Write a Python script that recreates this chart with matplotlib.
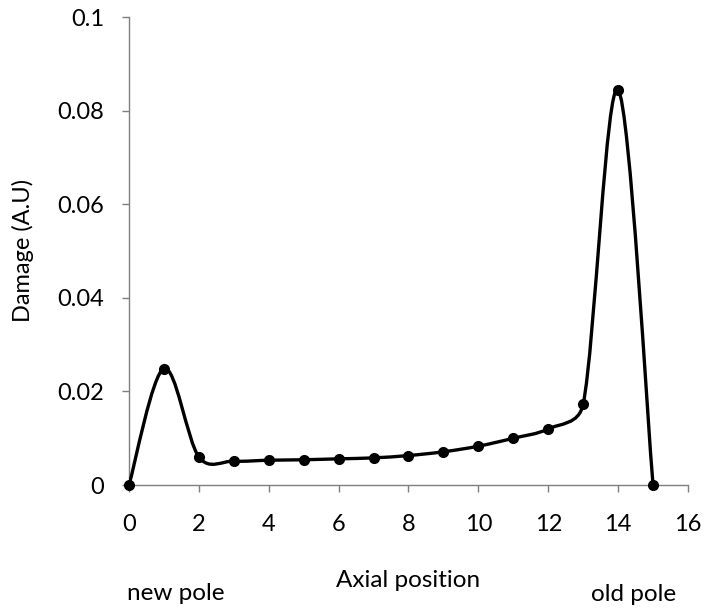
import numpy as np
import matplotlib.pyplot as plt
from matplotlib.path import Path
from matplotlib.patches import PathPatch

# ---------- DATA ----------
positions = list(range(16))
damage = [0.0, 0.0249, 0.0060, 0.0051, 0.0053, 0.0054, 0.0056, 0.0058,
          0.0063, 0.0071, 0.0083, 0.0100, 0.0120, 0.0173, 0.0845, 0.0]
x_ticks = [0, 2, 4, 6, 8, 10, 12, 14, 16]
y_ticks = [0, 0.02, 0.04, 0.06, 0.08, 0.1]
y_tick_labels = ["0", "0.02", "0.04", "0.06", "0.08", "0.1"]
# --------------------------

plt.rcParams["font.family"] = ["Lato", "DejaVu Sans"]


def excel_smooth_path(ax, xs, ys):
    # bezier through the points, control points shortened the way Excel
    # does it when a neighbour segment is much longer (measured on screen)
    pts = np.column_stack([xs, ys]).astype(float)
    pix = ax.transData.transform(pts)
    n = len(pts)
    verts = [pts[0]]
    codes = [Path.MOVETO]
    for i in range(n - 1):
        i0 = max(i - 1, 0)
        i3 = min(i + 2, n - 1)
        d12 = np.hypot(*(pix[i + 1] - pix[i]))
        d02 = np.hypot(*(pix[i + 1] - pix[i0]))
        d13 = np.hypot(*(pix[i3] - pix[i]))
        f = g = 1.0 / 6.0
        if d02 / 6.0 >= d12 / 2.0 and d02 > 0:
            f = d12 / d02 / 2.0
        if d13 / 6.0 >= d12 / 2.0 and d13 > 0:
            g = d12 / d13 / 2.0
        c1 = pts[i] + f * (pts[i + 1] - pts[i0])
        c2 = pts[i + 1] - g * (pts[i3] - pts[i])
        verts += [c1, c2, pts[i + 1]]
        codes += [Path.CURVE4] * 3
    return Path(verts, codes)


fig = plt.figure(figsize=(7.06, 6.09), dpi=100)
ax = fig.add_axes([0.1827, 0.2036, 0.7918, 0.7680])
ax.set_xlim(0, 16)
ax.set_ylim(0, 0.1)

patch = PathPatch(excel_smooth_path(ax, positions, damage), facecolor="none",
                  edgecolor="black", linewidth=2.4, capstyle="round",
                  joinstyle="round", zorder=3)
ax.add_patch(patch)
ax.plot(positions, damage, linestyle="none", marker="o", markersize=7,
        color="black", zorder=4, clip_on=False)

ax.set_xticks(x_ticks)
ax.set_yticks(y_ticks)
ax.set_yticklabels(y_tick_labels)

for side in ["top", "right"]:
    ax.spines[side].set_visible(False)
for side in ["left", "bottom"]:
    ax.spines[side].set_color("#7f7f7f")
    ax.spines[side].set_linewidth(1.0)

ax.tick_params(axis="both", direction="out", length=5, width=1.0,
               color="#7f7f7f", labelsize=17, labelcolor="black")
ax.tick_params(axis="x", pad=16)
ax.tick_params(axis="y", pad=13)

fig.text(23 / 706, 1 - 250 / 609, "Damage (A.U)", rotation=90, ha="center",
         va="center", fontsize=17)
fig.text(0.578, 0.0361, "Axial position", ha="center", va="baseline",
         fontsize=17.5)
fig.text(0.2493, 0.0148, "new pole", ha="center", va="baseline", fontsize=17.5)
fig.text(0.897, 0.0131, "old pole", ha="center", va="baseline", fontsize=17.5)

fig.savefig("out.png", dpi=100)
